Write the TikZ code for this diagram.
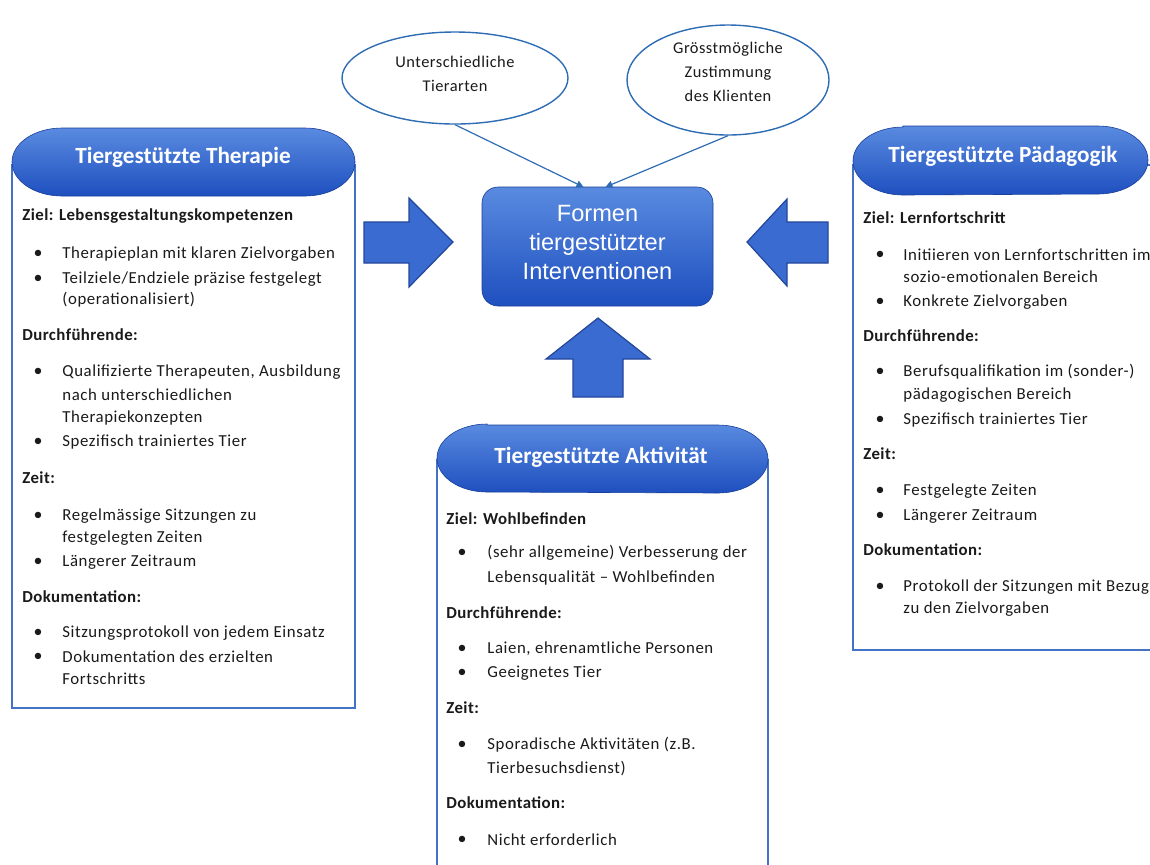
\documentclass[tikz,border=0pt]{standalone}
\usepackage{fontspec}
\setmainfont{Carlito}
\newfontfamily\arialf{Liberation Sans}
\usetikzlibrary{arrows.meta,shapes.geometric}
\definecolor{boxline}{HTML}{4472C4}
\definecolor{ttop}{HTML}{5A8BE0}
\definecolor{tbot}{HTML}{1E4FBF}
\definecolor{arrfill}{HTML}{3A6BD0}
\definecolor{arrline}{HTML}{23469A}
\definecolor{elline}{HTML}{2E6DB4}
\definecolor{txt}{HTML}{1A1A1A}
\newcommand\Hd[4]{\node[hd] (#1) at (#2,#3) {#4};}
\newcommand\It[4]{\node[it] (#1) at (#2,#3) {#4};}
\newcommand\Bu[3]{\node[bu] (#1) at (#2,#3) {•};}
% title capsule: left x, right x, top y, bottom y (px)
\newcommand\Capsule[4]{%
  \shade[ttl] (#1+50,#3) -- (#2-50,#3)
    arc[start angle=90,end angle=-90,x radius=25pt,y radius=17pt]
    -- (#1+50,#4)
    arc[start angle=-90,end angle=-270,x radius=25pt,y radius=17pt] -- cycle;}
\begin{document}
\begin{tikzpicture}[x=0.5pt,y=-0.5pt,
  hd/.style={anchor=west,inner sep=0pt,font=\fontsize{8.4}{10}\selectfont\bfseries\addfontfeatures{LetterSpace=2.5},text=txt},
  it/.style={anchor=west,inner sep=0pt,font=\fontsize{8.4}{10}\selectfont\addfontfeatures{LetterSpace=3.5},text=txt},
  bu/.style={anchor=center,inner sep=0pt,font=\fontsize{9}{10}\selectfont,text=txt},
  panel/.style={draw=boxline,line width=0.7pt,fill=white},
  ttl/.style={top color=ttop,bottom color=tbot,draw=tbot!80!black,line width=0.3pt},
  ttltext/.style={inner sep=0pt,text=white,font=\fontsize{11.6}{13}\selectfont\bfseries},
  barrow/.style={fill=arrfill,draw=arrline,line width=0.6pt,line join=miter},
  bubble/.style={ellipse,draw=elline,line width=0.7pt,fill=white,inner sep=0pt},
  btext/.style={align=center,inner sep=0pt,font=\fontsize{8.2}{12}\selectfont\addfontfeatures{LetterSpace=3},text=txt},
  conn/.style={draw=elline,line width=0.6pt,-{Triangle[length=3.5pt,width=3.5pt]}}
]
\useasboundingbox (0,0) rectangle (1150,864);
\clip (0,0) rectangle (1150,864);

% ---------- left panel ----------
\draw[panel] (12,165) rectangle (355,708);
\Capsule{12}{355}{128}{196}
\node[ttltext] (tl) at (183,157) {Tiergestützte Therapie};
\Hd{l1}{22}{216}{Ziel: Lebensgestaltungskompetenzen}
\Bu{lb1}{38}{254}\It{l2}{62}{254}{Therapieplan mit klaren Zielvorgaben}
\Bu{lb2}{38}{279}\It{l3}{62}{279}{Teilziele/Endziele präzise festgelegt}
\It{l4}{62}{300}{(operationalisiert)}
\Hd{l5}{22}{335}{Durchführende:}
\Bu{lb3}{38}{372}\It{l6}{62}{372}{Qualifizierte Therapeuten, Ausbildung}
\It{l7}{62}{395}{nach unterschiedlichen}
\It{l8}{62}{418}{Therapiekonzepten}
\Bu{lb4}{38}{442}\It{l9}{62}{442}{Spezifisch trainiertes Tier}
\Hd{l10}{22}{478}{Zeit:}
\Bu{lb5}{38}{516}\It{l11}{62}{516}{Regelmässige Sitzungen zu}
\It{l12}{62}{538}{festgelegten Zeiten}
\Bu{lb6}{38}{562}\It{l13}{62}{562}{Längerer Zeitraum}
\Hd{l14}{22}{597}{Dokumentation:}
\Bu{lb7}{38}{633}\It{l15}{62}{633}{Sitzungsprotokoll von jedem Einsatz}
\Bu{lb8}{38}{657}\It{l16}{62}{657}{Dokumentation des erzielten}
\It{l17}{62}{679}{Fortschritts}

% ---------- right panel ----------
\draw[panel] (853,165) rectangle (1200,650);
\Capsule{853}{1148}{126}{195}
\node[ttltext] (tr) at (1003,156) {Tiergestützte Pädagogik};
\Hd{r1}{863}{218}{Ziel: Lernfortschritt}
\Bu{rb1}{880}{255}\It{r2}{903}{255}{Initiieren von Lernfortschritten im}
\It{r3}{903}{277}{sozio-emotionalen Bereich}
\Bu{rb2}{880}{302}\It{r4}{903}{302}{Konkrete Zielvorgaben}
\Hd{r5}{863}{336}{Durchführende:}
\Bu{rb3}{880}{372}\It{r6}{903}{372}{Berufsqualifikation im (sonder-)}
\It{r7}{903}{395}{pädagogischen Bereich}
\Bu{rb4}{880}{420}\It{r8}{903}{420}{Spezifisch trainiertes Tier}
\Hd{r9}{863}{454}{Zeit:}
\Bu{rb5}{880}{491}\It{r10}{903}{491}{Festgelegte Zeiten}
\Bu{rb6}{880}{516}\It{r11}{903}{516}{Längerer Zeitraum}
\Hd{r12}{863}{550}{Dokumentation:}
\Bu{rb7}{880}{587}\It{r13}{903}{587}{Protokoll der Sitzungen mit Bezug}
\It{r14}{903}{609}{zu den Zielvorgaben}

% ---------- bottom panel ----------
\draw[panel] (437,460) rectangle (768,900);
\Capsule{437}{768}{425}{492}
\node[ttltext] (tb) at (601,457) {Tiergestützte Aktivität};
\Hd{b1}{446}{519}{Ziel: Wohlbefinden}
\Bu{bb1}{462}{553}\It{b2}{487}{553}{(sehr allgemeine) Verbesserung der}
\It{b3}{487}{578}{Lebensqualität – Wohlbefinden}
\Hd{b4}{446}{613}{Durchführende:}
\Bu{bb2}{462}{649}\It{b5}{487}{649}{Laien, ehrenamtliche Personen}
\Bu{bb3}{462}{673}\It{b6}{487}{673}{Geeignetes Tier}
\Hd{b7}{446}{708}{Zeit:}
\Bu{bb4}{462}{745}\It{b8}{487}{745}{Sporadische Aktivitäten (z.B.}
\It{b9}{487}{768}{Tierbesuchsdienst)}
\Hd{b10}{446}{803}{Dokumentation:}
\Bu{bb5}{462}{840}\It{b11}{487}{840}{Nicht erforderlich}

% ---------- centre ----------
\shade[rounded corners=8pt,top color=ttop,bottom color=tbot,draw=tbot!80!black,line width=0.3pt] (482,187) rectangle (713,306);
\node[inner sep=0pt,text=white,align=center,font=\arialf\fontsize{11.8}{14.5}\selectfont] (c) at (597.5,242) {Formen\\tiergestützter\\Interventionen};
\coordinate (ctop) at (597.5,187);

% block arrows
\path[barrow] (364,222) -- (409,222) -- (409,198) -- (453,242) -- (409,287) -- (409,263) -- (364,263) -- cycle;
\path[barrow] (828,222) -- (787,222) -- (787,199) -- (747,242) -- (787,286) -- (787,263) -- (828,263) -- cycle;
\path[barrow] (573,397) -- (573,359) -- (546,359) -- (598,318) -- (650,359) -- (623,359) -- (623,397) -- cycle;

% bubbles
\node[bubble,minimum width=113pt,minimum height=46pt] (e1) at (455,78) {};
\node[btext] (e1t) at (455,74) {Unterschiedliche\\Tierarten};
\node[bubble,minimum width=101pt,minimum height=55pt] (e2) at (728,80) {};
\node[btext] (e2t) at (728,72) {Grösstmögliche\\Zustimmung\\des Klienten};
\draw[conn] (e1.south) -- ([xshift=-7pt]ctop);
\draw[conn] (e2.south) -- ([xshift=4pt]ctop);
\end{tikzpicture}
\end{document}
